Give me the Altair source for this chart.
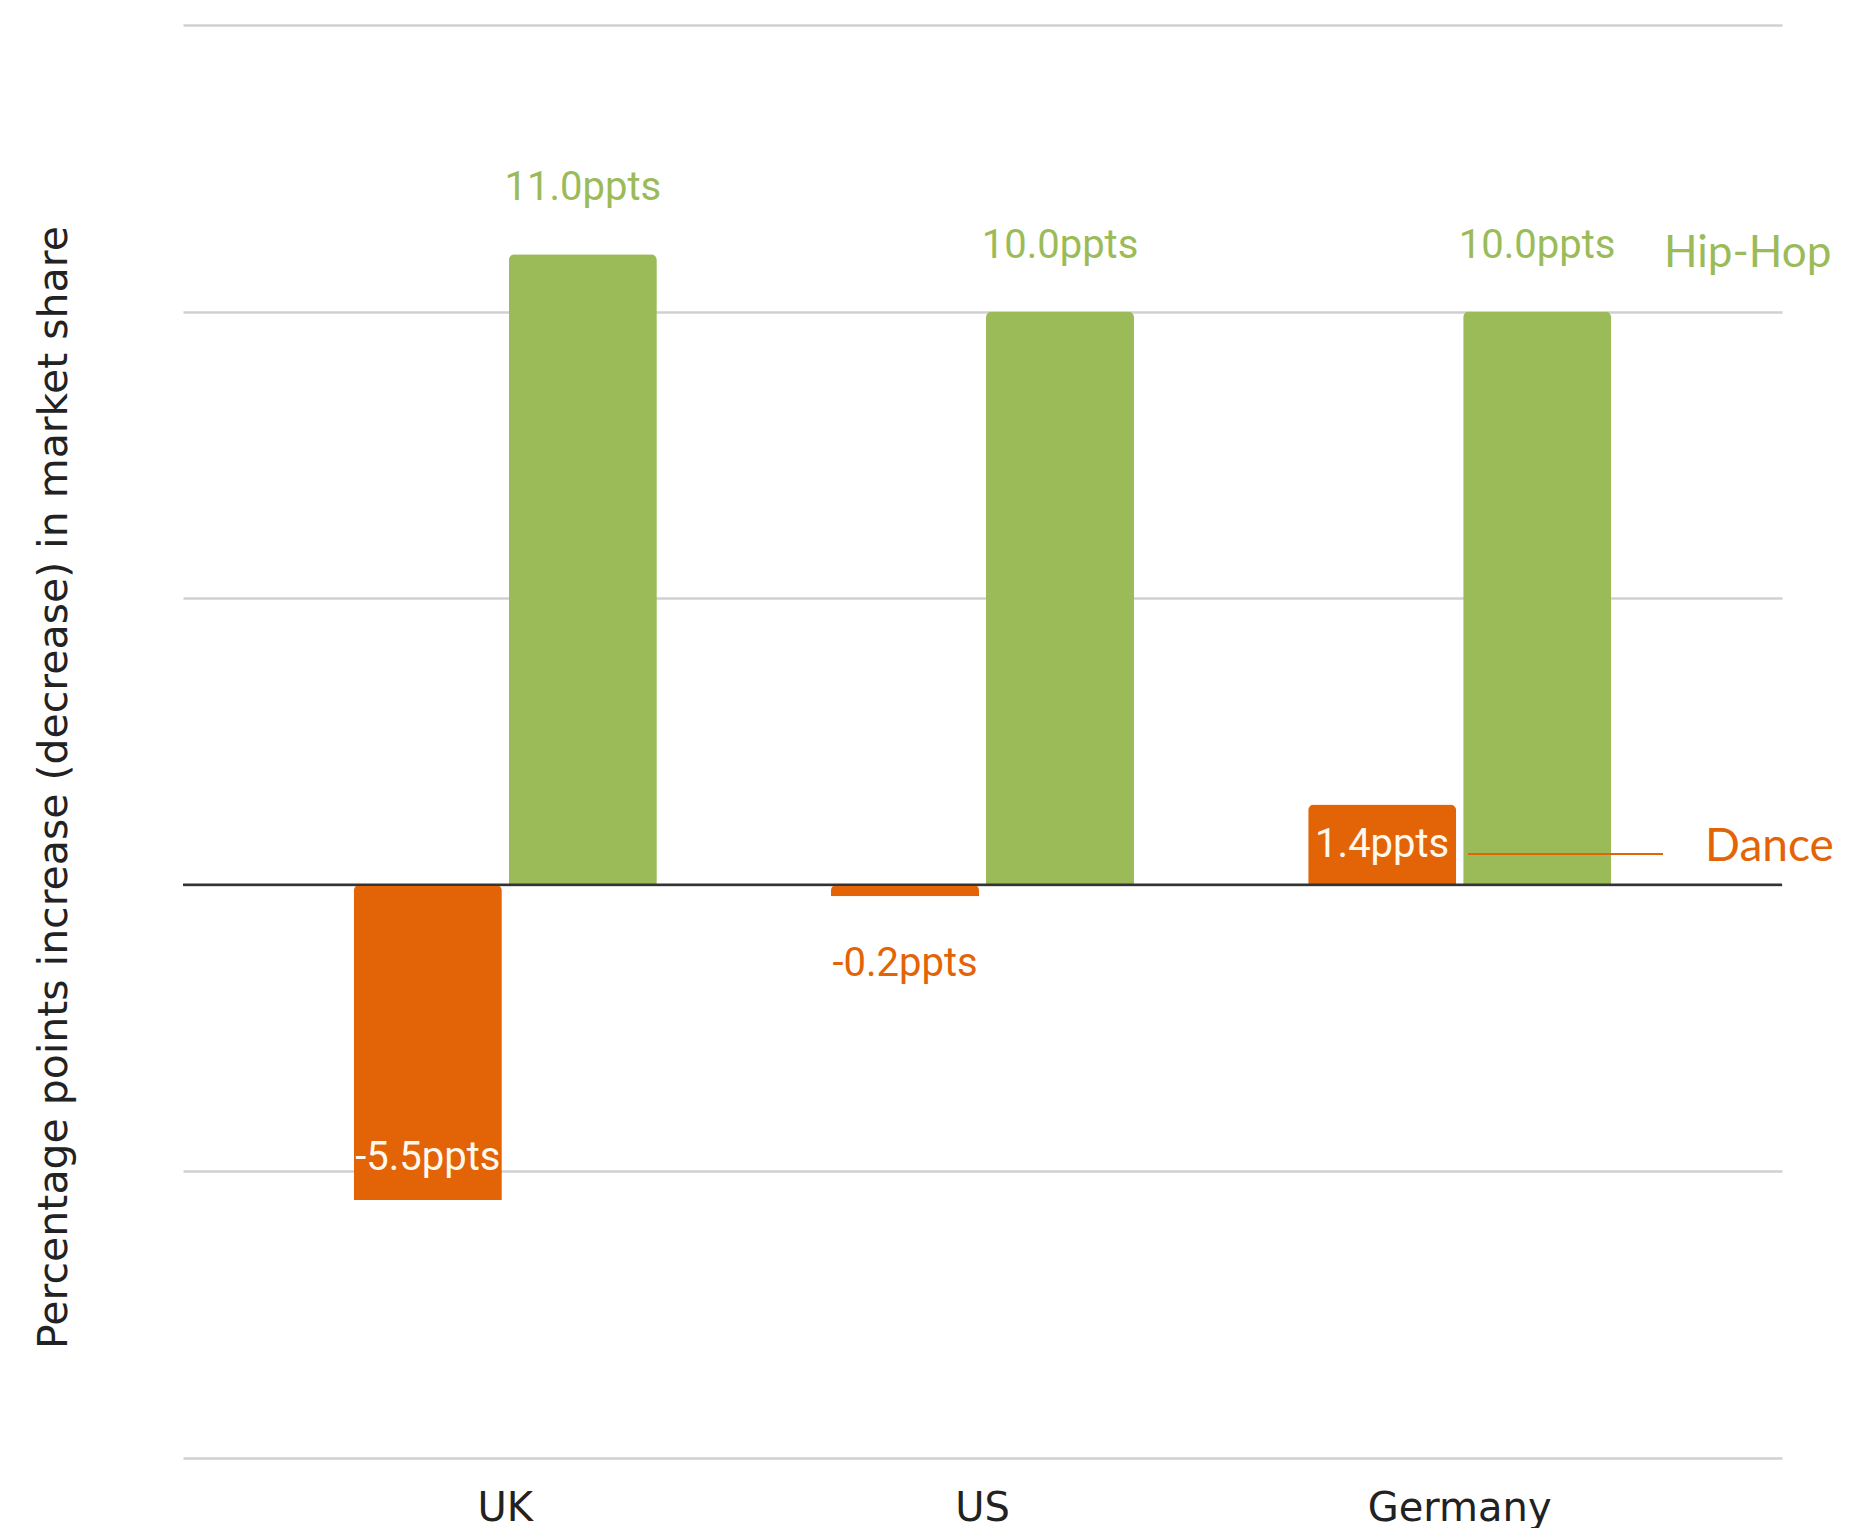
import altair as alt
import pandas as pd

countries = ["UK", "US", "Germany"]
series = ["Dance", "Hip-Hop"]
dance = [-5.5, -0.2, 1.4]
hiphop = [11.0, 10.0, 10.0]
bar_colors = ["#E36406", "#9BBB59"]
text_colors = ["#E0701E", "#95B35C"]
y_ticks = [-10, -5, 0, 5, 10, 15]
y_title = "Percentage points increase (decrease) in market share"

rows = []
for i, c in enumerate(countries):
    rows.append({"country": c, "series": "Dance", "value": dance[i]})
    rows.append({"country": c, "series": "Hip-Hop", "value": hiphop[i]})
df = pd.DataFrame(rows)
df["label"] = df["value"].map(lambda v: f"{v:.1f}ppts")


def placement(r):
    if r["series"] == "Dance" and abs(r["value"]) >= 1:
        return "in_pos" if r["value"] > 0 else "in_neg"
    return "out_pos" if r["value"] > 0 else "out_neg"


df["place"] = df.apply(placement, axis=1)

ends = pd.DataFrame({
    "series": series,
    "value": [dance[-1], hiphop[-1]],
    "text": series,
})

color_scale = alt.Scale(domain=series, range=bar_colors)
text_scale = alt.Scale(domain=series, range=text_colors)

x_enc = alt.X(
    "country:N", sort=countries,
    scale=alt.Scale(paddingInner=0.365, paddingOuter=0.358),
    axis=alt.Axis(title=None, ticks=False, domain=False, grid=False,
                  labelFont="DejaVu Sans", labelFontSize=40, labelColor="#222222",
                  labelPadding=30, labelAngle=0, labelLimit=0),
)
xo_enc = alt.XOffset("series:N", sort=series, scale=alt.Scale(paddingInner=0.045))
y_enc = alt.Y(
    "value:Q", scale=alt.Scale(domain=[-10, 15], nice=False, zero=True),
    axis=alt.Axis(values=y_ticks, labels=False, ticks=False, domain=False, grid=True,
                  gridColor="#d0d0d0", gridWidth=2.5, title=y_title,
                  titleFont="DejaVu Sans", titleFontSize=41, titleFontWeight="normal",
                  titleColor="#222222", titleAngle=270, titleAlign="center",
                  titleBaseline="middle", titleX=-129, titleY=762),
)

base = alt.Chart(df).encode(x=x_enc, xOffset=xo_enc, y=y_enc)

bars = base.mark_bar(cornerRadiusEnd=6).encode(
    color=alt.Color("series:N", scale=color_scale, legend=None)
)

zero = alt.Chart(pd.DataFrame({"v": [0]})).mark_rule(color="#333333", strokeWidth=2.5).encode(
    y=alt.Y("v:Q")
)


def label_layer(place, dy, white):
    mk = base.transform_filter(alt.datum.place == place).mark_text(
        font="Roboto", fontSize=40, baseline="middle", align="center", dy=dy,
        **({"color": "#FFF8EE"} if white else {}))
    enc = {"text": "label:N"}
    if not white:
        enc["color"] = alt.Color("series:N", scale=text_scale, legend=None)
    return mk.encode(**enc)


labels = [
    label_layer("out_pos", -66, False),
    label_layer("out_neg", 68, False),
    label_layer("in_pos", 40, True),
    label_layer("in_neg", -42, True),
]

hip_end = alt.Chart(ends).transform_filter(alt.datum.series == "Hip-Hop").mark_text(
    font="Lato", fontSize=44, align="left", baseline="alphabetic", dy=-45
).encode(
    x=alt.value(1481), y=alt.Y("value:Q"), text="text:N",
    color=alt.Color("series:N", scale=color_scale, legend=None),
)
dance_end = alt.Chart(ends).transform_filter(alt.datum.series == "Dance").mark_text(
    font="Lato", fontSize=46, align="left", baseline="alphabetic", dy=56
).encode(
    x=alt.value(1522), y=alt.Y("value:Q"), text="text:N",
    color=alt.Color("series:N", scale=color_scale, legend=None),
)
connector = alt.Chart(ends).transform_filter(alt.datum.series == "Dance").mark_rule(
    color=bar_colors[0], strokeWidth=2
).encode(x=alt.value(1285), x2=alt.value(1480), y=alt.value(829))

chart = alt.layer(bars, zero, *labels, hip_end, dance_end, connector).properties(
    width=1599, height=1433,
    autosize=alt.AutoSizeParams(type="none"),
    padding={"left": 175, "top": 17, "right": 58, "bottom": 70},
).configure(background="white").configure_view(strokeWidth=0, stroke="transparent")

chart.save("out.html", embed_options={"renderer": "svg", "actions": False})
